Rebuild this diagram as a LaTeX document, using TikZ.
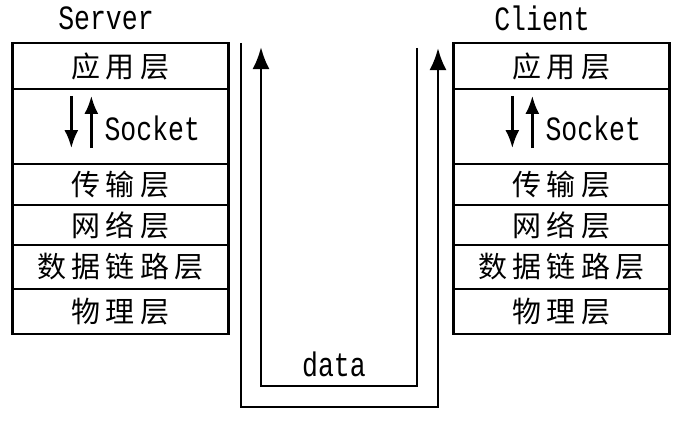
\documentclass[tikz,border=0pt]{standalone}
\usepackage{fontspec}
\newfontfamily\lat[FakeStretch=0.78]{Liberation Mono}
\newfontfamily\cjk[LetterSpace=18]{Noto Sans CJK SC}
\usetikzlibrary{arrows.meta,calc}

\begin{document}
\begin{tikzpicture}[x=1pt,y=-1pt,
  layer/.style={draw,line width=2.3pt,minimum width=216pt,inner sep=0pt,font=\cjk\fontsize{29}{29}\selectfont},
  lbl/.style={inner sep=0pt,font=\lat\fontsize{34}{34}\selectfont},
  flow/.style={line width=2.8pt,-{Latex[length=22pt,width=17pt]}},
  sock/.style={line width=2.8pt,-{Latex[length=18pt,width=14pt]}}]
\useasboundingbox (0,0) rectangle (682,420);
\foreach \n/\x/\tx/\t in {s/120.5/106/Server,c/561.5/542/Client} {
    \node[lbl] (\n title) at (\tx,18) {\t};
    \foreach \i/\ya/\yb/\A in {1/43/89/应用层,2/89/164/,3/164/205/传输层,4/205/245/网络层,5/245/289/数据链路层,6/289/334/物理层} {
        \node[layer,minimum height={(\yb-\ya)*1pt}] (\n\i) at (\x,{(\ya+\yb)/2}) {\A};
    }
    \node[lbl,anchor=west] (\n sock) at ($(\n2.west)+(93,2)$) {Socket};
    \draw[sock] ($(\n2.north west)+(60,8)$) -- ($(\n2.south west)+(60,-17)$);
    \draw[sock] ($(\n2.south west)+(80,-17)$) -- ($(\n2.north west)+(80,8)$);
}
\coordinate (sdown) at (241,43);
\coordinate (sbot) at (241,407);
\coordinate (cup) at (438,48);
\coordinate (cdown) at (417,48);
\coordinate (cbot) at (417,386);
\coordinate (sup) at (261,47);
\draw[flow] (sdown) -- (sbot) -| (cup);
\draw[flow] (cdown) -- (cbot) -| (sup);
\node[lbl] (data) at (334,364) {data};
\end{tikzpicture}
\end{document}
